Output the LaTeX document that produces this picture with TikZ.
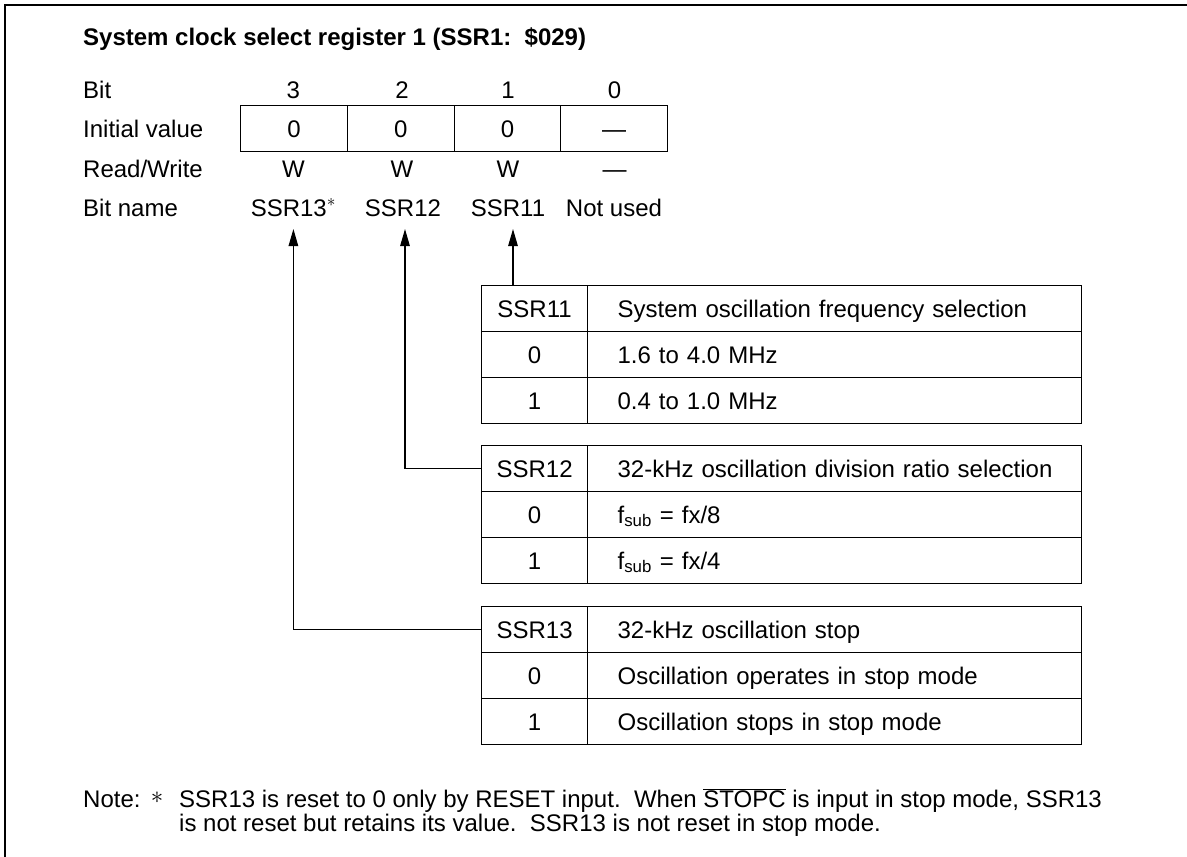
\documentclass[tikz,border=0pt]{standalone}
\usepackage{fontspec}
\setmainfont{Liberation Sans}
\usetikzlibrary{arrows.meta}
\begin{document}
\begin{tikzpicture}[x=1pt,y=-1pt,
  every node/.style={font=\fontsize{24}{28}\selectfont, inner sep=0pt},
  lbl/.style={anchor=base west},
  ctr/.style={anchor=base},
  thin/.style={line width=1.2pt},
  regcell/.style={draw, thin, minimum width=106.75pt, minimum height=46pt, text height=17.2pt, text depth=0pt, anchor=north west},
  cA/.style={draw, thin, minimum width=106pt, minimum height=46pt, text height=17.2pt, text depth=0pt, anchor=north west},
  cB/.style={draw, thin, minimum height=46pt, text width=474pt, inner xsep=10pt, align=left, text height=17.2pt, text depth=0pt, anchor=north west, execute at begin node={\hspace*{20pt}}},
  arr/.style={thin, -{Triangle[length=17pt,width=9.5pt]}}
]
\useasboundingbox (0,0) rectangle (1187,857);
% frame
\draw[line width=1.5pt] (5,857) -- (5,5) -- (1187,5);

% title
\node[lbl, font=\fontsize{24}{28}\selectfont\bfseries] (title) at (83,45) {System clock select register 1 (SSR1:\ \ \$029)};

% row labels
\node[lbl] (lbit) at (83,98) {Bit};
\node[lbl] (linit) at (83,137) {Initial value};
\node[lbl] (lrw) at (83,177) {Read/Write};
\node[lbl] (lname) at (83,216) {Bit name};

% bit numbers
\node[ctr] (b3) at (293.4,98) {3};
\node[ctr] (b2) at (402,98) {2};
\node[ctr] (b1) at (508,98) {1};
\node[ctr] (b0) at (614.5,98) {0};

% register cells
\node[regcell] (r3) at (240,105) {0};
\node[regcell] (r2) at (346.75,105) {0};
\node[regcell] (r1) at (453.5,105) {0};
\node[regcell] (r0) at (560.25,105) {---};

% read/write
\node[ctr] (w3) at (293.4,177) {W};
\node[ctr] (w2) at (402,177) {W};
\node[ctr] (w1) at (508,177) {W};
\node[ctr] (w0) at (614.5,177) {---};

% bit names
\node[ctr] (n3) at (293.4,216) {SSR13$^{\ast}$};
\node[ctr] (n2) at (403,216) {SSR12};
\node[ctr] (n1) at (508,216) {SSR11};
\node[ctr] (n0) at (614,216) {Not used};

% table 1
\node[cA] (t1h) at (481,285) {SSR11};
\node[cB] (t1hd) at (587,285) {System oscillation frequency selection};
\node[cA] (t1a) at (481,331) {0};
\node[cB] (t1ad) at (587,331) {1.6 to 4.0 MHz};
\node[cA] (t1b) at (481,377) {1};
\node[cB] (t1bd) at (587,377) {0.4 to 1.0 MHz};

% table 2
\node[cA] (t2h) at (481,445) {SSR12};
\node[cB] (t2hd) at (587,445) {32-kHz oscillation division ratio selection};
\node[cA] (t2a) at (481,491) {0};
\node[cB] (t2ad) at (587,491) {f\textsubscript{sub} = fx/8};
\node[cA] (t2b) at (481,537) {1};
\node[cB] (t2bd) at (587,537) {f\textsubscript{sub} = fx/4};

% table 3
\node[cA] (t3h) at (481,606) {SSR13};
\node[cB] (t3hd) at (587,606) {32-kHz oscillation stop};
\node[cA] (t3a) at (481,652) {0};
\node[cB] (t3ad) at (587,652) {Oscillation operates in stop mode};
\node[cA] (t3b) at (481,698) {1};
\node[cB] (t3bd) at (587,698) {Oscillation stops in stop mode};

% arrows
\coordinate (tip3) at (293.4,229);
\coordinate (tip2) at (405,229);
\coordinate (tip1) at (513,229);
\draw[arr] (t1h.north -| tip1) -- (tip1);
\draw[arr] (t2h.west) -| (tip2);
\draw[arr] (t3h.west) -| (tip3);

% note
\node[lbl] (note) at (83,807) {Note:};
\node[ctr] (star) at (157,807) {\raisebox{4pt}{$\ast$}};
\node[lbl] (note1) at (179,807) {SSR13 is reset to 0 only by RESET input.\ \ When $\overline{\mbox{STOPC}}$ is input in stop mode, SSR13};
\node[lbl] (note2) at (179,831) {is not reset but retains its value.\ \ SSR13 is not reset in stop mode.};
\end{tikzpicture}
\end{document}
